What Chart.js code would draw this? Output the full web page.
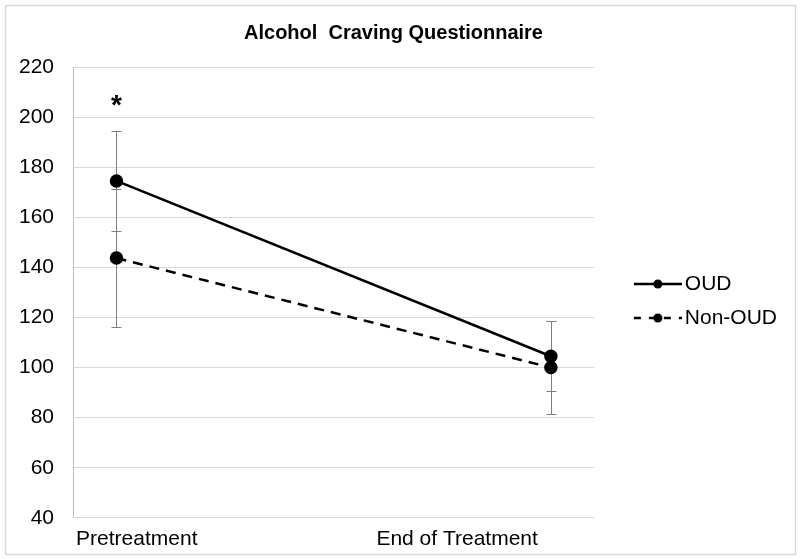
<!DOCTYPE html>
<html>
<head>
<meta charset="utf-8">
<script src="https://cdn.jsdelivr.net/npm/chart.js@4.4.1/dist/chart.umd.min.js"></script>
<style>
  html, body { margin: 0; padding: 0; background: #fff; }
  #wrap { width: 800px; height: 559px; }
</style>
</head>
<body>
<div id="wrap"><canvas id="chart_area" width="800" height="559"></canvas></div>
<script>
'use strict';

//Data
var categories = ['Pretreatment', 'End of Treatment'];
var oudMean = [174.5, 104.5];
var oudErr = [20, 14];
var nonOudMean = [143.7, 100];
var nonOudErr = [27.6, 18.5];
var sigMarks = ['*', ''];

var FONT = "'Liberation Sans', Arial, sans-serif";

//legend sample: short line, dot, short line (solid or dashed)
function legendSample(dash){
    var c = document.createElement('canvas');
    c.width = 82; c.height = 14;
    var g = c.getContext('2d');
    g.strokeStyle = '#000';
    g.lineWidth = 2.5;
    g.setLineDash(dash);
    g.beginPath();
    g.moveTo(34, 7);
    g.lineTo(82, 7);
    g.stroke();
    g.fillStyle = '#000';
    g.beginPath();
    g.arc(58, 7, 4.5, 0, Math.PI * 2);
    g.fill();
    return c;
}
var samples = [legendSample([]), legendSample([7, 8])];

var errBars = [oudErr, nonOudErr];

//Error bars + significance mark + outer frame
var extras = {
    id: 'extras',
    beforeDraw: function(chart){
        var ctx = chart.ctx;
        ctx.save();
        ctx.fillStyle = '#fff';
        ctx.fillRect(0, 0, chart.width, chart.height);
        ctx.strokeStyle = '#d9d9d9';
        ctx.lineWidth = 1.5;
        ctx.strokeRect(5.5, 5.5, 790, 549);
        ctx.restore();
    },
    beforeDatasetsDraw: function(chart){
        var ctx = chart.ctx;
        var xs = chart.scales.x, ys = chart.scales.y;
        ctx.save();
        ctx.strokeStyle = '#7f7f7f';
        ctx.lineWidth = 1;
        chart.data.datasets.forEach(function(ds, d){
            ds.data.forEach(function(p, i){
                var e = errBars[d][i];
                var x = Math.round(xs.getPixelForValue(p.x)) + 0.5;
                var top = Math.round(ys.getPixelForValue(p.y + e)) + 0.5;
                var bot = Math.round(ys.getPixelForValue(p.y - e)) + 0.5;
                ctx.beginPath();
                ctx.moveTo(x, top); ctx.lineTo(x, bot);
                ctx.moveTo(x - 5, top); ctx.lineTo(x + 5, top);
                ctx.moveTo(x - 5, bot); ctx.lineTo(x + 5, bot);
                ctx.stroke();
            });
        });
        ctx.restore();
    },
    afterDatasetsDraw: function(chart){
        var ctx = chart.ctx;
        var xs = chart.scales.x, ys = chart.scales.y;
        ctx.save();
        ctx.fillStyle = '#000';
        ctx.font = 'bold 28px ' + FONT;
        ctx.textAlign = 'center';
        ctx.textBaseline = 'alphabetic';
        sigMarks.forEach(function(m, i){
            if(!m) return;
            var topVal = Math.max(oudMean[i] + oudErr[i], nonOudMean[i] + nonOudErr[i]);
            var y = ys.getPixelForValue(topVal) - 17;
            ctx.fillText(m, xs.getPixelForValue(i), y);
        });
        ctx.restore();
    }
};

var config = {
    type: 'line',
    data: {
        datasets: [
            {
                label: 'OUD',
                data: oudMean.map(function(v, i){ return {x: i, y: v}; }),
                borderColor: '#000',
                backgroundColor: '#000',
                borderWidth: 2.5,
                pointStyle: 'circle',
                pointRadius: 5.5,
                pointHoverRadius: 5.5,
                tension: 0
            },
            {
                label: 'Non-OUD',
                data: nonOudMean.map(function(v, i){ return {x: i, y: v}; }),
                borderColor: '#000',
                backgroundColor: '#000',
                borderWidth: 2.5,
                borderDash: [10, 7],
                pointStyle: 'circle',
                pointRadius: 5.5,
                pointHoverRadius: 5.5,
                tension: 0
            }
        ]
    },
    options: {
        responsive: false,
        animation: false,
        devicePixelRatio: 1,
        layout: { padding: { left: 0, right: 13, top: 5, bottom: 6 } },
        plugins: {
            title: {
                display: true,
                text: 'Alcohol  Craving Questionnaire',
                color: '#000',
                font: { family: FONT, size: 20, weight: 'bold' },
                padding: { top: 16, bottom: 22 }
            },
            legend: {
                position: 'right',
                title: {
                    display: true,
                    text: '',
                    font: { size: 10, lineHeight: 1 },
                    padding: { top: 0, bottom: 34 }
                },
                labels: {
                    usePointStyle: true,
                    pointStyleWidth: 67,
                    padding: 13,
                    color: '#000',
                    font: { family: FONT, size: 21 },
                    generateLabels: function(chart){
                        var items = Chart.defaults.plugins.legend.labels.generateLabels(chart);
                        items.forEach(function(it, i){ it.pointStyle = samples[i]; });
                        return items;
                    }
                }
            },
            tooltip: { enabled: false }
        },
        scales: {
            x: {
                type: 'linear',
                min: -0.1,
                max: 1.1,
                grid: { display: false },
                border: { display: false },
                afterBuildTicks: function(axis){
                    axis.ticks = [{value: -0.093}, {value: 0.970}];
                },
                ticks: {
                    autoSkip: false,
                    maxRotation: 0,
                    align: 'inner',
                    padding: 1,
                    color: '#000',
                    font: { family: FONT, size: 21 },
                    callback: function(val, idx){ return categories[idx]; }
                }
            },
            y: {
                min: 40,
                max: 220,
                grid: { color: '#d9d9d9', lineWidth: 1, drawTicks: false },
                border: { display: true, color: '#bfbfbf' },
                ticks: {
                    stepSize: 20,
                    padding: 19,
                    color: '#000',
                    font: { family: FONT, size: 21 }
                }
            }
        }
    },
    plugins: [extras]
};

var ctx = document.getElementById('chart_area').getContext('2d');
window.myLine = new Chart(ctx, config);
</script>
</body>
</html>
